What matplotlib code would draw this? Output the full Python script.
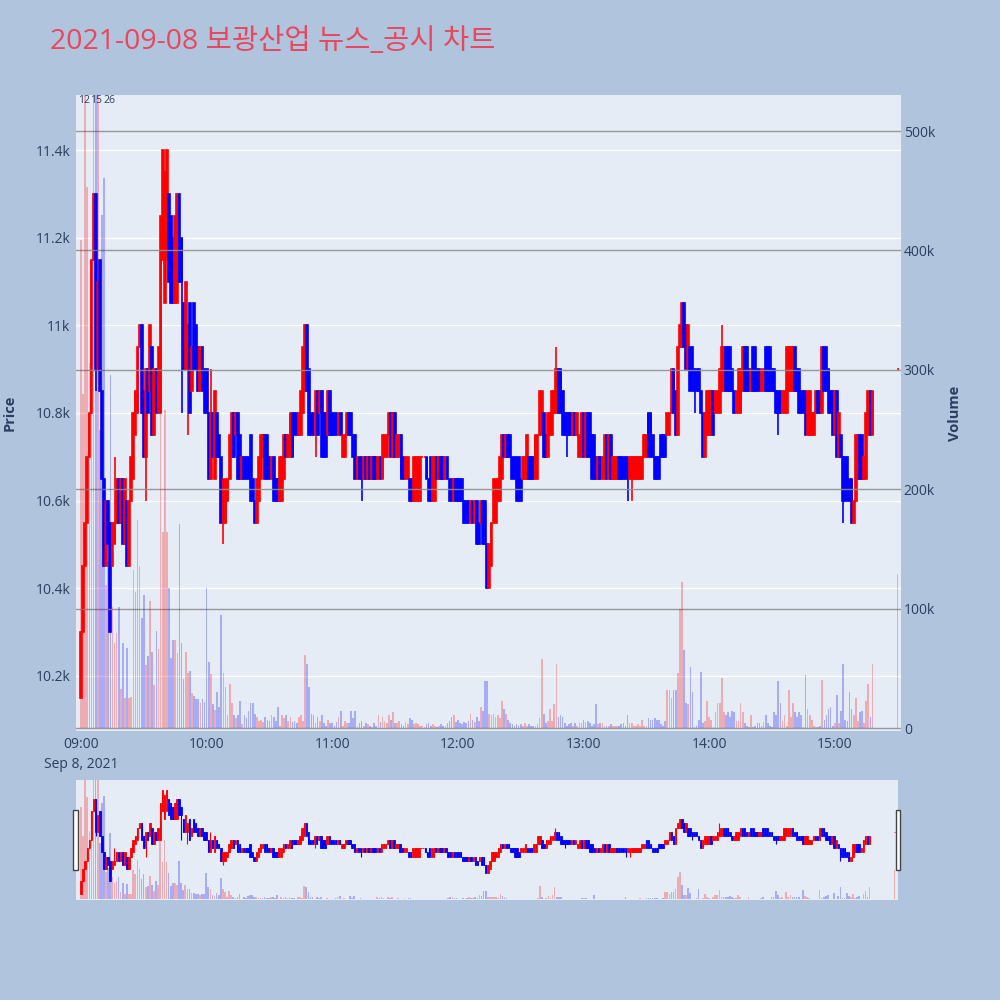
import matplotlib
matplotlib.use('Agg')
import matplotlib.pyplot as plt
from matplotlib.patches import Rectangle
import pandas as pd

plt.rcParams['font.family'] = ['Open Sans', 'Noto Sans CJK KR', 'DejaVu Sans']

TITLE = "2021-09-08 보광산업 뉴스_공시 차트"

# ---- minute candles 09:00 .. 15:18, plus closing auction 15:30 ----
opens = [
    10150,10300,10450,10550,10700,10800,11150,11300,10900,11150,
    10850,10650,10450,10600,10550,10450,10500,10550,10650,10550,
    10650,10500,10600,10450,10600,10650,10750,10800,10950,11000,
    10850,10700,10900,10850,10950,10750,10900,10800,10800,11150,
    11050,11150,11300,11250,11200,11050,11050,11300,11200,11050,
    10900,10900,11050,10850,11050,11000,10950,10850,10950,10900,
    10900,10800,10650,10800,10650,10800,10750,10700,10550,10550,
    10600,10650,10700,10800,10750,10800,10750,10650,10700,10700,
    10700,10750,10650,10600,10550,10600,10650,10700,10750,10750,
    10700,10650,10700,10650,10650,10600,10600,10650,10750,10700,
    10700,10800,10800,10800,10750,10750,10800,10850,11000,10900,
    10800,10800,10750,10850,10800,10850,10800,10800,10750,10850,
    10800,10800,10800,10750,10800,10700,10700,10750,10800,10800,
    10750,10750,10650,10700,10700,10650,10700,10650,10700,10650,
    10700,10700,10650,10700,10650,10700,10700,10750,10800,10700,
    10800,10700,10700,10750,10700,10650,10650,10650,10650,10600,
    10600,10600,10600,10700,10700,10700,10650,10700,10600,10600,
    10700,10650,10700,10700,10650,10700,10650,10650,10600,10650,
    10650,10650,10650,10600,10600,10600,10550,10600,10550,10600,
    10550,10550,10600,10600,10500,10400,10450,10550,10550,10600,
    10600,10650,10750,10700,10750,10750,10700,10700,10700,10700,
    10650,10650,10650,10650,10700,10700,10700,10650,10650,10750,
    10750,10800,10750,10700,10750,10750,10800,10800,10900,10900,
    10850,10800,10800,10800,10800,10750,10800,10750,10700,10700,
    10800,10700,10800,10800,10750,10750,10700,10650,10700,10650,
    10650,10750,10650,10750,10650,10650,10650,10700,10700,10700,
    10700,10700,10650,10650,10650,10650,10650,10650,10650,10700,
    10700,10800,10800,10750,10700,10700,10700,10750,10750,10750,
    10750,10750,10800,10900,10850,10750,10950,10950,11050,11000,
    10900,10950,10950,10900,10900,10900,10850,10800,10700,10750,
    10750,10750,10850,10800,10800,10800,10850,10850,10950,10950,
    10950,10900,10850,10800,10800,10800,10850,10950,10950,10900,
    10850,10950,10950,10900,10900,10850,10850,10950,10950,10950,
    10900,10900,10850,10850,10850,10800,10800,10800,10850,10850,
    10850,10950,10900,10900,10850,10850,10850,10750,10750,10750,
    10750,10800,10850,10850,10800,10950,10950,10900,10850,10850,
    10750,10850,10700,10750,10700,10700,10700,10650,10650,10550,
    10600,10650,10750,10750,10650,10650,10750,10850,10750,
    10900,
]
closes = [
    10300,10450,10550,10700,10800,11150,11300,10900,11100,10850,
    10650,10450,10600,10500,10300,10550,10550,10650,10550,10650,
    10500,10650,10450,10600,10700,10800,10850,10950,11000,10800,
    10700,10900,10800,11000,10750,10900,10800,10950,11250,11400,
    11350,11400,11100,11050,11050,11250,11300,11100,11100,10900,
    11100,11000,10800,10950,10900,10900,10850,10950,10850,10800,
    10800,10650,10800,10700,10850,10700,10700,10550,10650,10650,
    10650,10750,10800,10700,10800,10650,10650,10700,10650,10650,
    10650,10600,10600,10550,10650,10700,10750,10750,10650,10650,
    10650,10700,10600,10600,10600,10700,10700,10750,10700,10750,
    10800,10700,10750,10750,10800,10850,10950,11000,10850,10750,
    10750,10750,10850,10750,10850,10700,10700,10700,10850,10750,
    10750,10750,10750,10800,10750,10750,10750,10800,10750,10750,
    10700,10650,10700,10650,10650,10700,10650,10700,10650,10700,
    10650,10650,10700,10650,10750,10750,10750,10800,10700,10800,
    10700,10750,10750,10650,10650,10700,10700,10600,10600,10700,
    10700,10700,10700,10700,10700,10650,10600,10600,10700,10700,
    10650,10700,10650,10650,10700,10650,10600,10600,10650,10600,
    10600,10600,10600,10550,10550,10550,10600,10550,10600,10500,
    10500,10600,10500,10500,10400,10500,10550,10650,10650,10650,
    10700,10750,10700,10750,10700,10700,10650,10650,10600,10600,
    10600,10700,10700,10750,10650,10650,10650,10750,10750,10850,
    10850,10700,10700,10800,10800,10850,10850,10900,10800,10800,
    10750,10750,10750,10750,10750,10800,10750,10800,10750,10800,
    10700,10800,10700,10700,10650,10650,10650,10700,10650,10700,
    10750,10650,10750,10650,10700,10700,10700,10650,10650,10650,
    10650,10650,10700,10700,10700,10700,10700,10700,10700,10750,
    10750,10700,10700,10700,10650,10650,10650,10700,10700,10700,
    10800,10800,10900,10800,10750,10950,11000,11050,10950,10900,
    11000,10850,10850,10850,10850,10850,10800,10700,10800,10850,
    10850,10850,10750,10850,10850,10900,10950,10950,10850,10850,
    10850,10850,10800,10850,10900,10900,10950,10850,10850,10850,
    10900,10850,10850,10850,10850,10900,10900,10850,10850,10850,
    10850,10850,10800,10800,10800,10850,10850,10950,10950,10950,
    10950,10850,10850,10800,10800,10800,10750,10850,10850,10800,
    10800,10850,10800,10800,10950,10850,10850,10800,10800,10750,
    10850,10700,10800,10700,10600,10600,10600,10600,10550,10600,
    10750,10750,10650,10650,10700,10800,10850,10750,10850,
    10900,
]
# wick extremes beyond the body: minute index -> (high, low)
wicks = {
    7: (11300, 10850), 16: (10700, 10500), 31: (10900, 10600), 48: (11200, 10800),
    51: (11000, 10750), 62: (10900, 10650), 68: (10650, 10500), 112: (10850, 10700),
    134: (10700, 10600), 227: (10950, 10800), 232: (10800, 10700), 261: (10700, 10600),
    263: (10700, 10600), 293: (10900, 10800), 306: (11000, 10850), 333: (10850, 10750),
    364: (10700, 10550),
}
volume_k = [
    409,280,620,453,306,335,700,650,560,250,
    430,461,120,140,296,101,71,80,101,33,
    71,25,67,25,26,132,114,174,136,92,
    111,53,60,106,64,36,81,66,266,164,
    266,164,117,59,74,74,63,171,71,41,
    64,46,48,29,27,24,24,21,24,22,
    117,55,45,20,15,30,18,95,46,34,
    11,37,21,11,8,11,23,3,11,8,
    14,21,21,12,9,6,7,5,9,7,
    6,11,9,6,18,2,11,8,11,6,
    9,5,6,4,9,11,6,61,54,34,
    12,11,4,9,6,11,4,2,7,4,
    4,2,5,9,14,2,6,4,4,14,
    8,14,2,4,6,2,4,3,2,1,
    4,2,11,5,9,6,4,11,7,13,
    4,4,6,3,2,5,3,8,7,3,
    4,3,2,2,1,3,4,2,3,2,
    1,2,3,2,2,4,6,9,11,5,
    7,4,3,5,4,6,12,7,5,9,
    6,18,14,39,39,12,11,12,9,11,
    8,23,16,12,7,4,3,2,3,2,
    3,2,4,2,3,2,2,2,3,8,
    58,12,4,6,16,6,20,54,9,11,
    9,4,2,3,4,2,4,2,4,4,
    7,5,6,4,2,3,20,3,4,4,
    2,2,2,3,2,2,2,2,3,4,
    2,11,4,4,2,2,3,2,7,2,
    2,8,7,7,8,7,7,3,2,6,
    32,32,25,32,32,46,100,122,65,21,
    20,51,30,1,2,7,47,4,6,23,
    9,7,1,13,21,21,42,13,11,13,
    9,14,13,6,6,21,13,4,2,1,
    11,1,2,4,4,2,5,11,4,2,
    1,13,11,39,21,6,11,2,32,9,
    21,13,9,13,11,1,44,16,11,7,
    2,1,1,2,40,7,11,16,18,2,
    4,28,4,14,54,7,6,30,16,11,
    25,6,13,14,4,23,37,9,54,
    129,
]
top_labels = {0: "12", 6: "15", 12: "26"}

price_ticks = [10200, 10400, 10600, 10800, 11000, 11200, 11400]
price_tick_labels = ["10.2k", "10.4k", "10.6k", "10.8k", "11k", "11.2k", "11.4k"]
vol_ticks = [0, 100000, 200000, 300000, 400000, 500000]
vol_tick_labels = ["0", "100k", "200k", "300k", "400k", "500k"]
time_ticks = ["09:00", "10:00", "11:00", "12:00", "13:00", "14:00", "15:00"]

# time axis in minutes since 09:00
times = list(pd.date_range("2021-09-08 09:00", periods=379, freq="min")) + [pd.Timestamp("2021-09-08 15:30")]
t0 = pd.Timestamp("2021-09-08 09:00")
tm = [(t - t0).total_seconds() / 60 for t in times]
tick_pos = [(pd.Timestamp("2021-09-08 " + s) - t0).total_seconds() / 60 for s in time_ticks]

RED = "#FF0000"
BLUE = "#0000FF"
BG = "#E5ECF6"
PAPER = "#B0C4DE"
FONT_C = "#2a3f5f"

XLIM = (-2.4, 391.6)
PLIM = (10074, 11526)
VLIM = (-2500, 530200)

fig = plt.figure(figsize=(10, 10), dpi=100, facecolor=PAPER)


def draw(ax, axv, lw_wick, lw_body, bw):
    for i, (t, o, c) in enumerate(zip(tm, opens, closes)):
        col = RED if c >= o else BLUE
        hi, lo = wicks.get(i, (max(o, c), min(o, c)))
        ax.vlines(t, lo, hi, color=col, lw=lw_wick, zorder=2)
        ax.add_patch(Rectangle((t - bw / 2, min(o, c)), bw, abs(c - o),
                               facecolor=col, edgecolor=col, lw=lw_body, zorder=2))
    vcols = [RED if c >= o else BLUE for o, c in zip(opens, closes)]
    axv.bar(tm, [v * 1000 for v in volume_k], width=0.8, color=vcols, alpha=0.27,
            linewidth=0, zorder=3)


# ---- main chart ----
ax = fig.add_axes([0.076, 0.269, 0.825, 0.636])
ax.set_facecolor(BG)
axv = ax.twinx()
draw(ax, axv, 1.2, 1.2, 0.85)
ax.set_xlim(*XLIM)
ax.set_ylim(*PLIM)
axv.set_ylim(*VLIM)
ax.set_yticks(price_ticks)
ax.set_yticklabels(price_tick_labels)
axv.set_yticks(vol_ticks)
axv.set_yticklabels(vol_tick_labels)
ax.set_xticks(tick_pos)
ax.set_xticklabels(["09:00\nSep 8, 2021"] + time_ticks[1:], linespacing=1.45)
ax.grid(axis="y", color="white", lw=1)
ax.grid(axis="x", visible=False)
ax.set_axisbelow(True)
axv.grid(axis="y", color="#8f8f8f", lw=1, alpha=0.9)
axv.set_axisbelow(False)
for a in (ax, axv):
    for s in a.spines.values():
        s.set_visible(False)
    a.tick_params(length=0, labelsize=10, labelcolor=FONT_C)
ax.tick_params(axis="y", pad=4)
ax.tick_params(axis="x", pad=4)
axv.tick_params(axis="y", pad=2)

for i, txt in top_labels.items():
    axv.text(tm[i] - 1.5, 1.0, txt, transform=axv.get_xaxis_transform(), ha="left",
             va="top", fontsize=7.5, color=FONT_C, zorder=5)

fig.text(0.010, 0.587, "Price", rotation=90, ha="center", va="center",
         fontsize=10.5, fontweight="bold", color=FONT_C)
fig.text(0.955, 0.587, "Volume", rotation=90, ha="center", va="center",
         fontsize=10.5, fontweight="bold", color=FONT_C)
fig.text(0.05, 0.958, TITLE, ha="left", va="center", fontsize=20.5, color="#E8475E")

# ---- range slider ----
axs = fig.add_axes([0.076, 0.100, 0.822, 0.120])
axs.set_facecolor(BG)
axsv = axs.twinx()
draw(axs, axsv, 0.8, 0.6, 0.7)
axs.set_xlim(*XLIM)
axs.set_ylim(*PLIM)
axsv.set_ylim(*VLIM)
for a in (axs, axsv):
    a.set_xticks([])
    a.set_yticks([])
    for s in a.spines.values():
        s.set_visible(False)

for xh in (0.0733, 0.8955):
    fig.patches.append(Rectangle((xh, 0.130), 0.0044, 0.060, transform=fig.transFigure,
                                 facecolor="white", edgecolor="#444444", lw=1))

fig.savefig("out.png", dpi=100, facecolor=PAPER)
